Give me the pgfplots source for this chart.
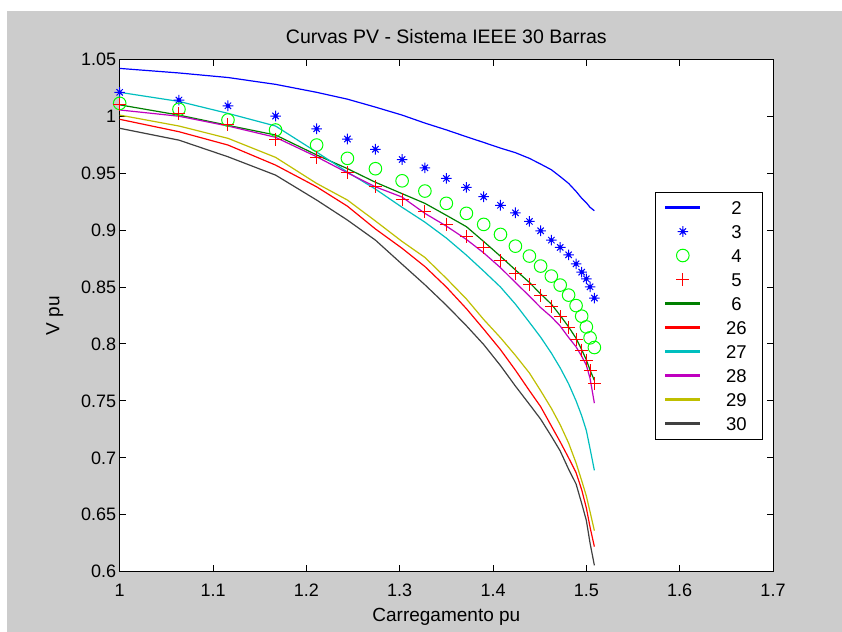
\documentclass[border=0pt]{standalone}
\usepackage{fontspec}
\setmainfont{Liberation Sans}
\usepackage{pgfplots}
\pgfplotsset{compat=1.18}
\usepackage{pgfplotstable}
\definecolor{figbg}{RGB}{204,204,204}
\definecolor{mblue}{RGB}{0,0,255}
\definecolor{mgreen}{RGB}{0,128,0}
\definecolor{mred}{RGB}{255,0,0}
\definecolor{mcyan}{RGB}{0,191,191}
\definecolor{mmag}{RGB}{191,0,191}
\definecolor{myel}{RGB}{191,191,0}
\definecolor{mgray}{RGB}{64,64,64}
\definecolor{lgreen}{RGB}{0,255,0}
\pgfdeclareplotmark{mstar}{%
  \pgfpathmoveto{\pgfqpoint{-\pgfplotmarksize}{0pt}}\pgfpathlineto{\pgfqpoint{\pgfplotmarksize}{0pt}}%
  \pgfpathmoveto{\pgfqpoint{0pt}{-\pgfplotmarksize}}\pgfpathlineto{\pgfqpoint{0pt}{\pgfplotmarksize}}%
  \pgfpathmoveto{\pgfqpoint{-.6\pgfplotmarksize}{-.6\pgfplotmarksize}}\pgfpathlineto{\pgfqpoint{.6\pgfplotmarksize}{.6\pgfplotmarksize}}%
  \pgfpathmoveto{\pgfqpoint{-.6\pgfplotmarksize}{.6\pgfplotmarksize}}\pgfpathlineto{\pgfqpoint{.6\pgfplotmarksize}{-.6\pgfplotmarksize}}%
  \pgfusepathqstroke
  \pgfpathcircle{\pgfpointorigin}{.3\pgfplotmarksize}\pgfusepathqfillstroke}
\pgfplotsset{
  legend image code/.code={\draw[mark repeat=2,mark phase=2,#1] plot coordinates {(0bp,0bp) (17bp,0bp) (34bp,0bp)};},
  mline/.style={color=#1, line width=1.2bp,
    legend image code/.code={\fill[fill=#1] (0bp,-0.55bp) rectangle (34bp,0.55bp);}},
}
\pgfplotstableread{
X      v2     v3     v4     v5     v6     v26    v27    v28    v29    v30
1.000  1.042  1.021  1.0113 1.0105 1.010  0.9973 1.021  1.0055 1.001  0.9894
1.0635 1.038  1.0142 1.0061 1.0025 1.001  0.9864 1.013  1.000  0.9914 0.979
1.116  1.034  1.0092 0.9967 0.9923 0.992  0.9747 1.0025 0.9914 0.9806 0.9644
1.167  1.028  1.0002 0.9879 0.9797 0.9835 0.9571 0.9914 0.9815 0.9639 0.9483
1.211  1.021  0.989  0.9747 0.9639 0.966  0.938  0.9685 0.9644 0.941  0.9264
1.244  1.015  0.980  0.9630 0.9503 0.954  0.921  0.951  0.9503 0.9264 0.9088
1.274  1.008  0.971  0.9539 0.9387 0.942  0.901  0.936  0.938  0.908  0.8912
1.3026 1.001  0.962  0.9433 0.9267 0.932  0.884  0.920  0.929  0.890  0.870
1.327  0.994  0.9547 0.9343 0.9167 0.9235 0.868  0.907  0.9147 0.876  0.852
1.350  0.988  0.9454 0.9235 0.9050 0.913  0.850  0.893  0.9035 0.8576 0.834
1.3715 0.982  0.9375 0.9147 0.8941 0.903  0.831  0.878  0.8918 0.8395 0.816
1.390  0.977  0.9293 0.9050 0.8843 0.890  0.813  0.864  0.8800 0.8215 0.7995
1.408  0.972  0.9218 0.8962 0.8730 0.877  0.795  0.850  0.867  0.8055 0.781
1.424  0.968  0.9152 0.8859 0.8620 0.865  0.777  0.835  0.854  0.790  0.763
1.439  0.963  0.9076 0.8772 0.8523 0.854  0.759  0.819  0.842  0.7745 0.747
1.451  0.958  0.8994 0.8684 0.8423 0.844  0.745  0.806  0.832  0.759  0.734
1.4625 0.953  0.8912 0.8596 0.8332 0.835  0.728  0.792  0.8238 0.7435 0.719
1.472  0.947  0.8848 0.8517 0.8238 0.825  0.714  0.779  0.8157 0.729  0.706
1.481  0.941  0.8783 0.8429 0.8145 0.815  0.700  0.765  0.8057 0.713  0.690
1.489  0.934  0.8704 0.8337 0.8040 0.805  0.687  0.750  0.7975 0.6955 0.677
1.495  0.928  0.8631 0.8244 0.7946 0.795  0.672  0.737  0.7893 0.680  0.660
1.500  0.924  0.8572 0.8150 0.7858 0.786  0.656  0.724  0.7814 0.6665 0.645
1.504  0.920  0.8502 0.8054 0.7764 0.777  0.639  0.708  0.7697 0.6525 0.625
1.5086 0.917  0.8403 0.7969 0.7653 0.768  0.622  0.689  0.748  0.636  0.6056
}\data
\begin{document}
\begin{tikzpicture}
\path[use as bounding box] (-119.7bp,-60.3bp) rectangle (722.3bp,571.7bp);
\fill[white] (-119.7bp,-60.3bp) rectangle (722.3bp,571.7bp);
\fill[figbg] (-112.7bp,-60.3bp) rectangle (722.3bp,560.7bp);
\begin{axis}[
  scale only axis, width=653.3bp, height=512.4bp,
  xmin=1, xmax=1.7, ymin=0.6, ymax=1.05,
  xtick={1,1.1,1.2,1.3,1.4,1.5,1.6,1.7},
  xticklabels={1,1.1,1.2,1.3,1.4,1.5,1.6,1.7},
  ytick={0.6,0.65,0.7,0.75,0.8,0.85,0.9,0.95,1,1.05},
  yticklabels={0.6,0.65,0.7,0.75,0.8,0.85,0.9,0.95,1,1.05},
  tick align=inside, tick pos=both,
  major tick length=6.5bp,
  axis line style={line width=1bp, black},
  tick style={line width=1bp, black},
  axis background/.style={fill=white},
  ticklabel style={font=\fontsize{18bp}{20bp}\selectfont},
  xticklabel style={yshift=-9bp},
  title={Curvas PV - Sistema IEEE 30 Barras},
  title style={at={(axis description cs:0.5,1.0326)}, anchor=center, font=\fontsize{19.5bp}{22bp}\selectfont},
  xlabel={Carregamento pu},
  xlabel style={at={(axis description cs:0.5,-0.088)}, anchor=center, font=\fontsize{19bp}{22bp}\selectfont},
  ylabel={V pu},
  ylabel style={at={(axis description cs:-0.0995,0.5)}, anchor=center, font=\fontsize{19bp}{22bp}\selectfont},
  legend cell align=left,
  legend style={at={(rel axis cs:0.8194,0.7416)}, anchor=north west, fill=white, draw=black,
    font=\fontsize{18.5bp}{18.5bp}\selectfont, inner xsep=10bp, inner ysep=8.6bp, row sep=10bp, column sep=20bp,
    nodes={inner sep=0pt, text height=14bp, text depth=0bp}},
]
\addplot[mline=mblue] table[x=X,y=v2]{\data};
\addlegendentry{\makebox[32bp]{2}}
\addplot[only marks, color=mblue, mark=mstar, mark size=5.3bp, line width=1bp] table[x=X,y=v3]{\data};
\addlegendentry{\makebox[32bp]{3}}
\addplot[only marks, color=lgreen, mark=o, mark size=6.3bp, line width=1bp] table[x=X,y=v4]{\data};
\addlegendentry{\makebox[32bp]{4}}
\addplot[only marks, color=mred, mark=+, mark size=6.5bp, line width=1bp] table[x=X,y=v5]{\data};
\addlegendentry{\makebox[32bp]{5}}
\addplot[mline=mgreen] table[x=X,y=v6]{\data};
\addlegendentry{\makebox[32bp]{6}}
\addplot[mline=mred] table[x=X,y=v26]{\data};
\addlegendentry{\makebox[32bp]{26}}
\addplot[mline=mcyan] table[x=X,y=v27]{\data};
\addlegendentry{\makebox[32bp]{27}}
\addplot[mline=mmag] table[x=X,y=v28]{\data};
\addlegendentry{\makebox[32bp]{28}}
\addplot[mline=myel] table[x=X,y=v29]{\data};
\addlegendentry{\makebox[32bp]{29}}
\addplot[mline=mgray] table[x=X,y=v30]{\data};
\addlegendentry{\makebox[32bp]{30}}
\end{axis}
\end{tikzpicture}
\end{document}
